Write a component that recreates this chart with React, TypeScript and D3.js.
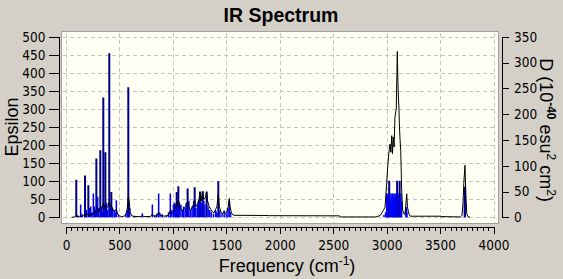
import { useEffect, useRef } from 'react'
import * as d3 from 'd3'

// broadened spectrum (black line), read against the Epsilon axis
const curveFreq = [
  55, 80, 96, 105, 125, 137, 150, 165, 178, 190, 209, 220, 231, 245, 256, 268, 284, 296, 310, 321,
  335, 349, 360, 368, 380, 392, 405, 414, 424, 440, 455, 471, 485, 500, 520, 545, 560, 572, 583, 592,
  600, 615, 640, 700, 714, 730, 790, 808, 820, 850, 867, 878, 900, 930, 955, 976, 990, 1005, 1020, 1036,
  1045, 1051, 1062, 1075, 1090, 1105, 1120, 1138, 1150, 1165, 1180, 1195, 1204, 1215, 1230, 1245, 1254, 1265, 1279, 1290,
  1305, 1316, 1325, 1340, 1355, 1370, 1385, 1400, 1412, 1425, 1435, 1450, 1465, 1480, 1495, 1510, 1520, 1528, 1535, 1548,
  1565, 1580, 1890, 1895, 2560, 2565, 2900, 2940, 2955, 2969, 2985, 3000, 3010, 3020, 3032, 3040, 3048, 3055, 3062, 3070,
  3078, 3090, 3100, 3105, 3110, 3115, 3120, 3126, 3132, 3141, 3150, 3160, 3170, 3178, 3188, 3195, 3205, 3220, 3500, 3510,
  3690, 3705, 3715, 3722, 3733, 3742, 3750, 3760, 3780,
]
const curveEps = [
  0, 1, 6, 2, 2, 4, 2, 4, 12, 6, 10, 5, 7, 6, 14, 9, 22, 15, 16, 28,
  22, 40, 28, 32, 26, 30, 42, 30, 34, 20, 16, 22, 8, 4, 2, 3, 8, 22, 56, 44,
  14, 4, 2, 2, 5, 2, 2, 9, 3, 4, 15, 6, 4, 3, 6, 18, 9, 16, 28, 42,
  30, 48, 34, 24, 16, 26, 30, 44, 28, 20, 26, 38, 46, 30, 36, 50, 70, 45, 72, 50,
  55, 70, 45, 30, 22, 15, 12, 22, 30, 64, 30, 14, 10, 16, 10, 20, 34, 52, 30, 12,
  6, 5.5, 5, 4.5, 4, 1, 1, 5, 12, 19, 28, 93, 139, 176, 203, 180, 226, 176, 222, 195,
  277, 300, 459, 380, 333, 305, 250, 215, 185, 74, 20, 10, 8, 28, 65, 30, 12, 3, 3, 2,
  1, 5, 40, 93, 144, 60, 10, 2, 0,
]

// stick intensities, read against the D axis
const stickFreq = [
  96, 137, 178, 209, 231, 256, 284, 296, 321, 349, 368, 405, 424, 471, 583, 714, 808, 867, 976, 1036,
  1051, 1138, 1204, 1254, 1279, 1316, 1425, 1528,
  110, 150, 190, 220, 240, 265, 275, 305, 330, 340, 358, 380, 390, 415, 435, 450, 460, 490, 560, 575,
  595, 640, 760, 830, 850, 880, 900, 940, 960, 990, 1005, 1015, 1025, 1045, 1060, 1075, 1090, 1100, 1115, 1125,
  1150, 1165, 1180, 1195, 1215, 1230, 1240, 1265, 1290, 1300, 1330, 1345, 1360, 1380, 1400, 1410, 1440, 1460, 1480, 1500,
  1515, 1540,
  2975, 2990, 3000, 3006, 3012, 3018, 3024, 3030, 3036, 3042, 3050, 3056, 3062, 3068, 3074, 3080, 3086, 3092, 3098, 3104,
  3110, 3116, 3122, 3128, 3134, 3140, 3180, 3186, 3190, 3728, 3733,
]
const stickD = [
  73, 25, 81, 62, 21, 46, 114, 40, 130, 232, 126, 318, 49, 33, 252, 8, 25, 46, 46, 49,
  60, 56, 58, 50, 50, 50, 70, 33,
  4, 7, 14, 18, 10, 21, 14, 18, 21, 10, 25, 28, 14, 21, 18, 14, 10, 6, 7, 14,
  18, 3, 2, 4, 7, 8, 6, 4, 10, 14, 25, 28, 21, 32, 28, 25, 14, 21, 18, 28,
  32, 14, 21, 32, 18, 25, 32, 28, 32, 25, 21, 14, 10, 7, 14, 10, 14, 8, 13, 7,
  18, 10,
  5, 10, 46, 40, 46, 35, 71, 46, 30, 46, 40, 46, 35, 46, 40, 46, 30, 46, 71, 46,
  35, 46, 71, 40, 46, 30, 20, 20, 10, 30, 59,
]

const freqTicks = [0, 500, 1000, 1500, 2000, 2500, 3000, 3500, 4000]
const epsTicks = [0, 50, 100, 150, 200, 250, 300, 350, 400, 450, 500]
const dTicks = [0, 50, 100, 150, 200, 250, 300, 350]

const NARROW = "'Liberation Sans Narrow', 'Arial Narrow', 'DejaVu Sans Condensed', sans-serif"
const SANS = "'Liberation Sans', Arial, sans-serif"

export default function App() {
  const svgRef = useRef(null)

  useEffect(() => {
    const el = svgRef.current
    if (!el) return
    const svg = d3.select(el)
    svg.selectAll('*').remove()

    const frame = { left: 61.5, right: 498, top: 31.5, bottom: 223.5 }
    const x = d3.scaleLinear().domain([0, 4000]).range([66, 493.5])
    const yL = d3.scaleLinear().domain([0, 500]).range([217.3, 36.7])
    const yR = d3.scaleLinear().domain([0, 350]).range([217.3, 36.7])

    svg.append('rect').attr('width', 563).attr('height', 279).attr('fill', '#d4d0c8')

    // title
    svg.append('text')
      .attr('x', 281).attr('y', 21.5)
      .attr('text-anchor', 'middle')
      .attr('font-family', SANS).attr('font-weight', 'bold').attr('font-size', '19.5px')
      .text('IR Spectrum')

    // plot background
    svg.append('rect')
      .attr('x', frame.left).attr('y', frame.top)
      .attr('width', frame.right - frame.left).attr('height', frame.bottom - frame.top)
      .attr('fill', '#fffff4').attr('stroke', '#a0a0a0').attr('shape-rendering', 'crispEdges')

    svg.append('defs').append('clipPath').attr('id', 'plot-clip')
      .append('rect')
      .attr('x', frame.left + 0.5).attr('y', frame.top + 0.5)
      .attr('width', frame.right - frame.left - 1).attr('height', frame.bottom - frame.top - 1)

    const grid = svg.append('g')
      .attr('stroke', '#c4c4c4').attr('stroke-dasharray', '4,3').attr('shape-rendering', 'crispEdges')
    freqTicks.forEach(t => {
      grid.append('line')
        .attr('x1', Math.round(x(t)) + 0.5).attr('x2', Math.round(x(t)) + 0.5)
        .attr('y1', frame.top + 1).attr('y2', frame.bottom - 1)
    })
    epsTicks.forEach(t => {
      grid.append('line')
        .attr('y1', Math.round(yL(t)) + 0.5).attr('y2', Math.round(yL(t)) + 0.5)
        .attr('x1', frame.left + 1).attr('x2', frame.right - 1)
    })

    const plot = svg.append('g').attr('clip-path', 'url(#plot-clip)')

    // sticks
    stickFreq.forEach((f, i) => {
      const d = stickD[i]
      plot.append('line')
        .attr('x1', x(f)).attr('x2', x(f))
        .attr('y1', yR(0)).attr('y2', yR(d))
        .attr('stroke', d > 48 ? '#000088' : '#0000ff')
        .attr('stroke-width', d > 48 ? 2 : 1.5)
    })

    // broadened curve
    const pts = curveFreq.map((f, i) => [f, curveEps[i]])
    const line = d3.line().x(p => x(p[0])).y(p => yL(p[1]))
    plot.append('path').datum(pts)
      .attr('d', line)
      .attr('fill', 'none').attr('stroke', '#000').attr('stroke-width', 1)

    const styleTicks = ax => ax.selectAll('text')
      .attr('fill', '#000')
      .attr('font-family', NARROW)
      .attr('font-size', '13.5px')

    // left axis
    svg.append('g')
      .attr('transform', 'translate(58.5,0)')
      .attr('shape-rendering', 'crispEdges')
      .call(d3.axisLeft(yL).tickValues(epsTicks).tickSize(10).tickSizeOuter(0).tickPadding(3))
      .call(ax => ax.select('.domain').attr('stroke', '#000'))
      .call(ax => ax.selectAll('line').attr('stroke', '#000'))
      .call(styleTicks)

    // right axis
    svg.append('g')
      .attr('transform', 'translate(501.5,0)')
      .attr('shape-rendering', 'crispEdges')
      .call(d3.axisRight(yR).tickValues(dTicks).tickSize(7).tickSizeOuter(0).tickPadding(5.5))
      .call(ax => ax.select('.domain').attr('stroke', '#000'))
      .call(ax => ax.selectAll('line').attr('stroke', '#000'))
      .call(styleTicks)

    // bottom ruler: minor ticks every 50, labelled majors every 500
    svg.append('g')
      .attr('transform', 'translate(0,226.5)')
      .attr('shape-rendering', 'crispEdges')
      .call(d3.axisBottom(x).tickValues(d3.range(0, 4001, 50)).tickSize(4).tickSizeOuter(0).tickFormat(() => ''))
      .call(ax => ax.select('.domain').attr('stroke', '#000'))
      .call(ax => ax.selectAll('line').attr('stroke', '#000'))
    svg.append('g')
      .attr('transform', 'translate(0,226.5)')
      .attr('shape-rendering', 'crispEdges')
      .call(d3.axisBottom(x).tickValues(freqTicks).tickSize(7).tickSizeOuter(0).tickPadding(6.5).tickFormat(d3.format('d')))
      .call(ax => ax.select('.domain').remove())
      .call(ax => ax.selectAll('line').attr('stroke', '#000'))
      .call(styleTicks)

    // axis titles
    const xt = svg.append('text')
      .attr('x', 287).attr('y', 271.5)
      .attr('text-anchor', 'middle')
      .attr('font-family', SANS).attr('font-size', '18px')
    xt.append('tspan').text('Frequency (cm')
    xt.append('tspan').attr('font-size', '12px').attr('dy', -7).text('-1')
    xt.append('tspan').attr('dy', 7).text(')')

    svg.append('text')
      .attr('transform', 'translate(17.5,127) rotate(-90)')
      .attr('text-anchor', 'middle')
      .attr('font-family', SANS).attr('font-size', '18px')
      .text('Epsilon')

    const yt = svg.append('text')
      .attr('transform', 'translate(539.5,130) rotate(90)')
      .attr('text-anchor', 'middle')
      .attr('font-family', SANS).attr('font-size', '18px')
    yt.append('tspan').text('D (10')
    yt.append('tspan').attr('font-size', '12px').attr('font-weight', 'bold').attr('dy', -7).text('-40')
    yt.append('tspan').attr('dy', 7).text(' esu')
    yt.append('tspan').attr('font-size', '12px').attr('dy', -7).text('2')
    yt.append('tspan').attr('dy', 7).text(' cm')
    yt.append('tspan').attr('font-size', '12px').attr('dy', -7).text('2')
    yt.append('tspan').attr('dy', 7).text(')')
  }, [])

  return (
    <svg
      ref={svgRef}
      width={563}
      height={279}
      style={{ position: 'absolute', left: 0, top: 0, display: 'block' }}
    />
  )
}
